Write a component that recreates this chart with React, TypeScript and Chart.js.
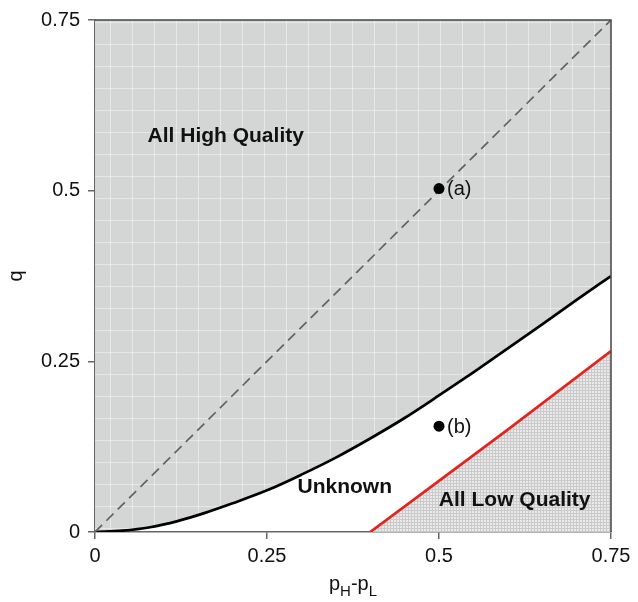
import React, { useEffect, useRef } from "react";
import { Chart, registerables } from "chart.js";

Chart.register(...registerables);

const xTicks = [0, 0.25, 0.5, 0.75];
const xTickLabels = ["0", "0.25", "0.5", "0.75"];
const yTicks = [0, 0.25, 0.5, 0.75];
const yTickLabels = ["0", "0.25", "0.5", "0.75"];

// boundary between "All High Quality" and "Unknown"
const boundaryX = [0, 0.04, 0.08, 0.12, 0.16, 0.2, 0.25, 0.3, 0.35, 0.4, 0.45, 0.5, 0.55, 0.6, 0.65, 0.7, 0.75];
const boundaryY = [0, 0.002, 0.007, 0.016, 0.028, 0.042, 0.061, 0.084, 0.109, 0.137, 0.167, 0.2, 0.234, 0.269, 0.304, 0.34, 0.375];

// boundary of "All Low Quality"
const lowX = [0.4, 0.5, 0.6, 0.75];
const lowY = [0, 0.075, 0.15, 0.265];

// 45-degree dashed line
const diagX = [0, 0.75];
const diagY = [0, 0.75];

// labelled points
const pointNames = ["(a)", "(b)"];
const pointX = [0.5, 0.5];
const pointY = [0.503, 0.155];

// region labels (data coordinates of label centre)
const regionNames = ["All High Quality", "Unknown", "All Low Quality"];
const regionX = [0.19, 0.363, 0.61];
const regionY = [0.58, 0.066, 0.047];

const FONT = '"Liberation Sans", Arial, Helvetica, sans-serif';

function makeGrayPattern(ctx: CanvasRenderingContext2D) {
  const c = document.createElement("canvas");
  c.width = 22;
  c.height = 22;
  const g = c.getContext("2d")!;
  g.fillStyle = "#d4d6d6";
  g.fillRect(0, 0, 22, 22);
  g.fillStyle = "rgba(255,255,255,0.42)";
  g.fillRect(0, 0, 22, 1);
  g.fillRect(0, 0, 1, 22);
  return ctx.createPattern(c, "repeat")!;
}

function makeHatchPattern(ctx: CanvasRenderingContext2D) {
  const c = document.createElement("canvas");
  c.width = 3;
  c.height = 3;
  const g = c.getContext("2d")!;
  g.fillStyle = "#e9e9e9";
  g.fillRect(0, 0, 3, 3);
  g.fillStyle = "#cacaca";
  g.fillRect(0, 0, 3, 1);
  g.fillRect(0, 0, 1, 3);
  return ctx.createPattern(c, "repeat")!;
}

const annotations = {
  id: "annotations",
  afterDatasetsDraw(chart: any) {
    const { ctx, chartArea, scales } = chart;
    const xs = scales.x;
    const ys = scales.y;
    ctx.save();
    // plot frame (top and right)
    ctx.strokeStyle = "#444";
    ctx.lineWidth = 1.5;
    ctx.beginPath();
    ctx.moveTo(chartArea.left, chartArea.top);
    ctx.lineTo(chartArea.right, chartArea.top);
    ctx.lineTo(chartArea.right, chartArea.bottom);
    ctx.stroke();

    // region labels
    ctx.fillStyle = "#111";
    ctx.font = `bold 21px ${FONT}`;
    ctx.textAlign = "center";
    ctx.textBaseline = "middle";
    regionNames.forEach((t, i) => {
      ctx.fillText(t, xs.getPixelForValue(regionX[i]), ys.getPixelForValue(regionY[i]));
    });

    // point labels
    ctx.font = `20px ${FONT}`;
    ctx.textAlign = "left";
    pointNames.forEach((t, i) => {
      ctx.fillText(t, xs.getPixelForValue(pointX[i]) + 8, ys.getPixelForValue(pointY[i]) + 1);
    });

    // x axis title p_H - p_L
    const big = `20px ${FONT}`;
    const small = `15px ${FONT}`;
    const parts: [string, string, number][] = [
      ["p", big, 0],
      ["H", small, 6],
      ["-p", big, 0],
      ["L", small, 6],
    ];
    let total = 0;
    parts.forEach(([t, f]) => {
      ctx.font = f;
      total += ctx.measureText(t).width;
    });
    let x = (chartArea.left + chartArea.right) / 2 - total / 2;
    const base = 590;
    ctx.textBaseline = "alphabetic";
    parts.forEach(([t, f, dy]) => {
      ctx.font = f;
      ctx.fillText(t, x, base + dy);
      x += ctx.measureText(t).width;
    });
    ctx.restore();
  },
};

export default function App() {
  const ref = useRef<HTMLCanvasElement>(null);
  useEffect(() => {
    const canvas = ref.current!;
    const ctx = canvas.getContext("2d")!;
    const gray = makeGrayPattern(ctx);
    const hatch = makeHatchPattern(ctx);
    const chart = new Chart(canvas, {
      type: "line",
      data: {
        datasets: [
          {
            data: pointX.map((x, i) => ({ x, y: pointY[i] })),
            showLine: false,
            pointRadius: 5.5,
            pointBackgroundColor: "#000",
            pointBorderWidth: 0,
            fill: false,
          },
          {
            data: diagX.map((x, i) => ({ x, y: diagY[i] })),
            borderColor: "#626262",
            borderWidth: 1.7,
            borderDash: [10, 6],
            pointRadius: 0,
            fill: false,
          },
          {
            data: boundaryX.map((x, i) => ({ x, y: boundaryY[i] })),
            borderColor: "#000",
            borderWidth: 2.7,
            pointRadius: 0,
            cubicInterpolationMode: "monotone",
            fill: "end",
            backgroundColor: gray,
          },
          {
            data: lowX.map((x, i) => ({ x, y: lowY[i] })),
            borderColor: "#e2231f",
            borderWidth: 2.7,
            pointRadius: 0,
            fill: "start",
            backgroundColor: hatch,
          },
        ] as any,
      },
      options: {
        responsive: false,
        animation: false,
        events: [],
        layout: { padding: { left: 0, top: 18, right: 27, bottom: 0 } },
        plugins: { legend: { display: false }, tooltip: { enabled: false } },
        scales: {
          x: {
            type: "linear",
            min: 0,
            max: 0.75,
            afterFit: (s: any) => {
              s.height = 70;
            },
            afterBuildTicks: (s: any) => {
              s.ticks = xTicks.map((v) => ({ value: v }));
            },
            ticks: {
              callback: (_v: any, i: number) => xTickLabels[i],
              font: { family: FONT, size: 20 },
              color: "#111",
              padding: 5,
              maxRotation: 0,
            },
            grid: { drawOnChartArea: false, tickLength: 7, color: "#666", lineWidth: 1.5 },
            border: { color: "#666", width: 1.5 },
          },
          y: {
            type: "linear",
            min: 0,
            max: 0.75,
            afterFit: (s: any) => {
              s.width = 95;
            },
            afterBuildTicks: (s: any) => {
              s.ticks = yTicks.map((v) => ({ value: v }));
            },
            ticks: {
              callback: (_v: any, i: number) => yTickLabels[i],
              font: { family: FONT, size: 20 },
              color: "#111",
              padding: 8,
            },
            grid: { drawOnChartArea: false, tickLength: 7, color: "#666", lineWidth: 1.5 },
            border: { color: "#666", width: 1.5 },
            title: { display: true, text: "q", font: { family: FONT, size: 20 }, color: "#111" },
          },
        },
      } as any,
      plugins: [annotations],
    });
    return () => chart.destroy();
  }, []);
  return (
    <div style={{ position: "absolute", left: 0, top: 0, width: 638, height: 602, background: "#fff" }}>
      <canvas ref={ref} width={638} height={602} style={{ display: "block" }} />
    </div>
  );
}
